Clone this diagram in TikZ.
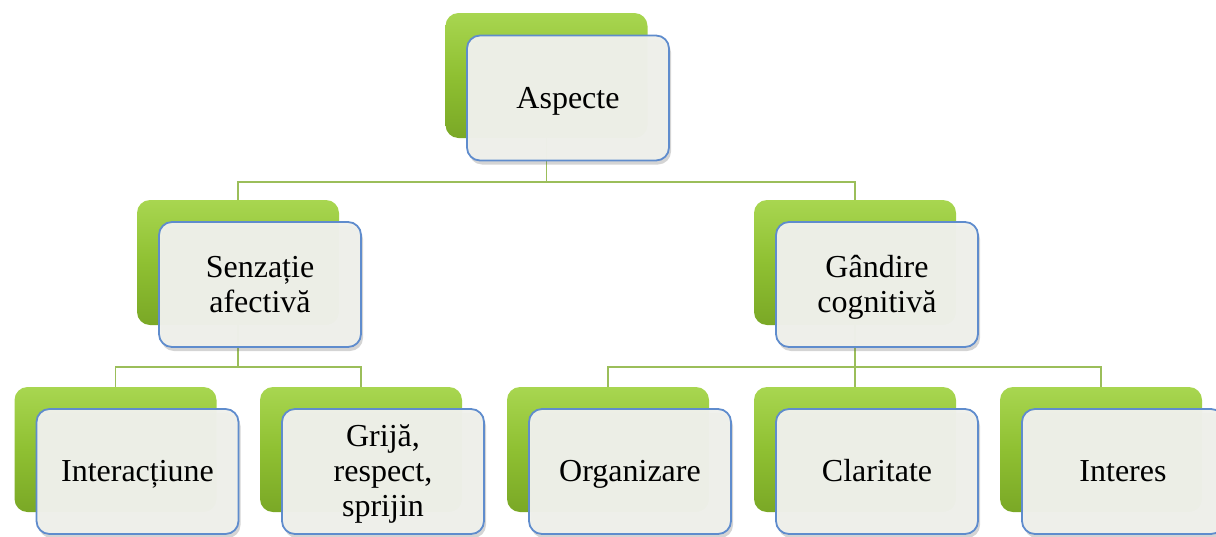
\documentclass[tikz,border=0pt]{standalone}
\usepackage{fontspec}
\setmainfont{Liberation Serif}
\usetikzlibrary{shadows,backgrounds}
\definecolor{lime}{RGB}{143,192,50}
\definecolor{limetop}{RGB}{168,214,80}
\definecolor{limebot}{RGB}{122,168,38}
\definecolor{boxfill}{RGB}{240,241,236}
\definecolor{boxline}{RGB}{95,140,205}
\definecolor{linkgreen}{RGB}{155,190,90}
\tikzset{
  backbox/.style={rectangle, rounded corners=13pt, minimum width=202pt,
    minimum height=125pt, inner sep=0pt, top color=limetop,
    bottom color=limebot, middle color=lime, draw=none},
  frontbox/.style={rectangle, rounded corners=13pt, minimum width=202pt,
    minimum height=125pt, inner sep=0pt, fill=boxfill, fill opacity=0.97,
    text opacity=1, draw=boxline, line width=1.8pt, align=center,
    font=\fontsize{32}{35}\selectfont,
    drop shadow={shadow xshift=2pt, shadow yshift=-4pt, opacity=0.28,
      fill=black!60}},
  link/.style={draw=linkgreen, line width=1.8pt}
}
% text of a card, set a little below the card's middle
\newcommand{\cardtext}[1]{\raisebox{-3pt}[\height][\depth]{\begin{tabular}{@{}c@{}}#1\end{tabular}}}
\begin{document}
\begin{tikzpicture}[x=1pt, y=-1pt]
\useasboundingbox (0,0) rectangle (1216,536);
% each item: a green back card and a pale front card shifted down-right
\node[backbox]  (g0) at (546.5,75.5) {};
\node[frontbox] (w0) at (568,98) {\cardtext{Aspecte\strut}};

\node[backbox]  (g1) at (238,262.5) {};
\node[frontbox] (w1) at (260,284.5) {\cardtext{Senzație\\afectivă}};
\node[backbox]  (g2) at (855,262.5) {};
\node[frontbox] (w2) at (877,284.5) {\cardtext{Gândire\\cognitivă}};

\node[backbox]  (g3) at (115.5,449.5) {};
\node[frontbox] (w3) at (137.5,471.5) {\cardtext{Interacțiune\strut}};
\node[backbox]  (g4) at (361,449.5) {};
\node[frontbox] (w4) at (383,471.5) {\cardtext{Grijă,\\respect,\\sprijin}};
\node[backbox]  (g5) at (608,449.5) {};
\node[frontbox] (w5) at (630,471.5) {\cardtext{Organizare\strut}};
\node[backbox]  (g6) at (855,449.5) {};
\node[frontbox] (w6) at (877,471.5) {\cardtext{Claritate\strut}};
\node[backbox]  (g7) at (1101,449.5) {};
\node[frontbox] (w7) at (1123,471.5) {\cardtext{Interes\strut}};

% tree connectors, behind the cards
\begin{scope}[on background layer]
  \coordinate (b0) at ([yshift=-44pt]g0.south);
  \draw[link] (g0.south) -- (b0);
  \draw[link] (g1.north) |- (b0);
  \draw[link] (g2.north) |- (b0);

  \coordinate (b1) at ([yshift=-42pt]g1.south);
  \draw[link] (g1.south) -- (b1);
  \draw[link] (g3.north) |- (b1);
  \draw[link] (g4.north) |- (b1);

  \coordinate (b2) at ([yshift=-42pt]g2.south);
  \draw[link] (g2.south) -- (b2);
  \draw[link] (g5.north) |- (b2);
  \draw[link] (g6.north) -- (b2);
  \draw[link] (g7.north) |- (b2);
\end{scope}
\end{tikzpicture}
\end{document}
